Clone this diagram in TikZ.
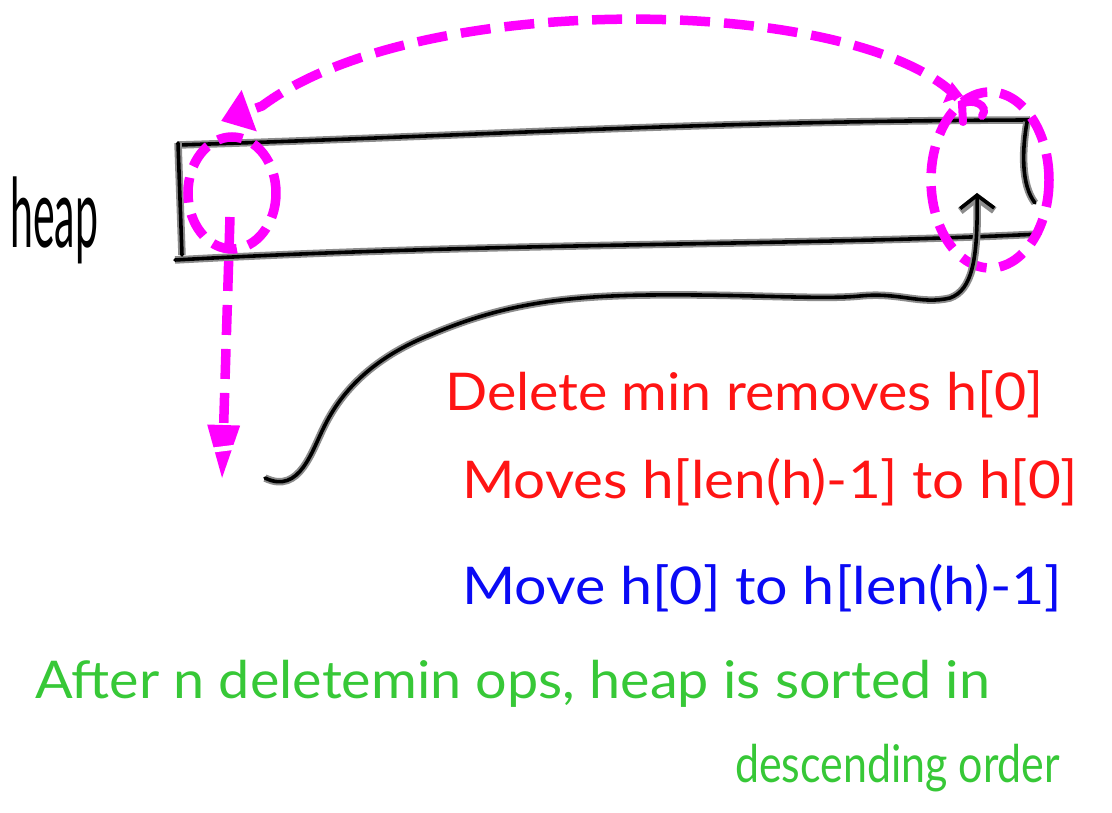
\documentclass[tikz,border=0pt]{standalone}
\usepackage{fontspec}
\setmainfont{Lato}
\usetikzlibrary{arrows.meta}
\definecolor{inkred}{RGB}{255,20,20}
\definecolor{inkblue}{RGB}{10,10,245}
\definecolor{inkgreen}{RGB}{55,200,55}
\definecolor{inkmag}{RGB}{255,0,255}
\newcommand\fitw[2]{\resizebox{#1}{\height}{#2}}
\begin{document}
\begin{tikzpicture}[x=1pt,y=-1pt,
  ink/.style={draw=black, line width=3.6pt, line cap=round, line join=round,
    preaction={draw=black!45, line width=7.5pt}},
  magdash/.style={draw=inkmag, line width=9.5pt, dash pattern=on 30pt off 14pt},
  lbl/.style={anchor=base west, inner sep=0pt, font=\fontsize{52}{56}\selectfont}]
\useasboundingbox (0,0) rectangle (1112,813);
\fill[white] (0,0) rectangle (1112,813);

% the heap array as a long bar
\coordinate (tl) at (178,145);
\coordinate (tr) at (1030,120);
\coordinate (bl) at (175,260);
\coordinate (br) at (1040,234);
\draw[ink] (tl) .. controls (500,135) and (700,121) .. (tr);
\draw[ink] (bl) .. controls (500,242) and (800,246) .. (br);
\draw[ink] (178,143) -- (182,255);
\draw[ink] (1027,122) .. controls (1022,150) and (1021,185) .. (1035,203);

\node[lbl, font=\fontsize{96}{100}\selectfont] (heap) at (10,248) {\fitw{88pt}{heap}};

% first and last slot
\coordinate (lc) at (232,193);
\coordinate (rc) at (990,180);
\draw[draw=inkmag, line width=9.5pt, dash pattern=on 25pt off 12pt]
  (lc) ellipse [x radius=44, y radius=56];
\draw[draw=inkmag, line width=9.5pt, dash pattern=on 27pt off 13pt]
  (rc) ellipse [x radius=59, y radius=88];

% last value carried over to the first slot
\coordinate (arcR) at (958,98);
\coordinate (arcK) at (262,106);
\coordinate (arcL) at (221,121);
\draw[magdash, -{Triangle[length=30pt,width=42pt]}]
  (arcR) .. controls (860,-5) and (420,-12) .. (arcK) -- (arcL);
\fill[inkmag] (952,82) -- (943,103) -- (963,96) -- cycle;
\draw[draw=inkmag, line width=8pt, line cap=round]
  (963,122) -- (962,104) .. controls (972,98) and (990,105) .. (982,116);

% removed minimum
\coordinate (vs) at (230,217);
\coordinate (ve) at (222,480);
\draw[magdash, -{Triangle[length=55pt,width=30pt]}] (vs) -- (ve);
\draw[white, line width=5pt] (205,451) -- (245,446);

% path from the removed value back to the end of the array
\coordinate (cs) at (265,478);
\coordinate (ce) at (977,193);
\draw[ink, -{Straight Barb[length=13pt,width=34pt]}]
  (cs) .. controls (300,495) and (312,450) .. (325,425)
  .. controls (345,385) and (380,355) .. (430,335)
  .. controls (500,305) and (560,296) .. (650,295)
  .. controls (750,294) and (820,300) .. (860,296)
  .. controls (900,292) and (920,305) .. (950,298)
  .. controls (972,290) and (978,260) .. (ce);

% notes
\node[lbl, text=inkred] (l1) at (445,410) {\fitw{598pt}{Delete min removes h[0]}};
\node[lbl, text=inkred] (l2) at (462,498) {\fitw{616pt}{Moves h[len(h)-1] to h[0]}};
\node[lbl, text=inkblue] (l3) at (462,604) {\fitw{600pt}{Move h[0] to h[len(h)-1]}};
\node[lbl, text=inkgreen] (l4) at (35,698) {\fitw{955pt}{After n deletemin ops, heap is sorted in}};
\node[lbl, text=inkgreen] (l5) at (735,782) {\fitw{325pt}{descending order}};
\end{tikzpicture}
\end{document}
